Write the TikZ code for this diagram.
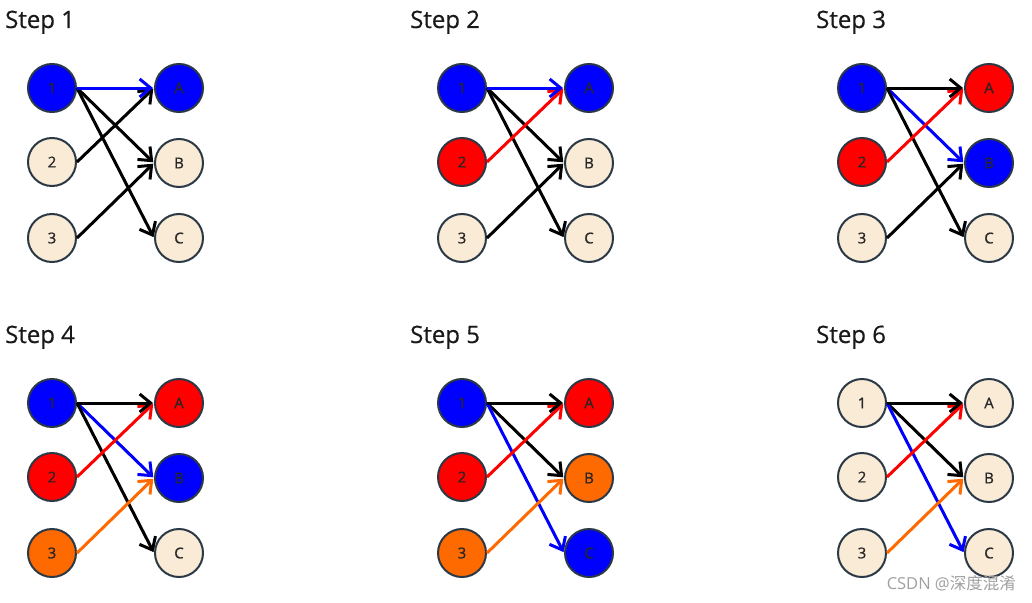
\documentclass[tikz,border=0pt]{standalone}
\usepackage{fontspec}
\setmainfont{Open Sans}
\newfontfamily\labfont[FakeBold=0.8]{Open Sans}
\newfontfamily\titlefont[FakeBold=0.4]{Open Sans}
\newfontfamily\cjkfont{Noto Sans CJK SC}
\usetikzlibrary{arrows.meta}
\definecolor{nblue}{HTML}{0000FF}
\definecolor{nred}{HTML}{FF0000}
\definecolor{norange}{HTML}{FF6A00}
\definecolor{nbeige}{HTML}{FAEBD7}
\definecolor{nborder}{HTML}{2B3845}
\definecolor{wmark}{HTML}{A0A0A0}
\tikzset{
  vert/.style={circle, draw=nborder, line width=2pt, minimum size=48pt, inner sep=0pt, font=\labfont\fontsize{15}{15}\selectfont, text=black!85},
  edge/.style={line width=3pt, -{Straight Barb[length=11pt,width=18pt,line width=3pt]}, shorten >=1pt},
  title/.style={anchor=base west, font=\titlefont\fontsize{24}{24}\selectfont, text=black!90, inner sep=0pt}
}
% #1 prefix, #2..#7 fills of 1,2,3,A,B,C
\newcommand\panelnodes[7]{%
  \node[vert, fill=#2] (#1-1) at (52,88) {1};
  \node[vert, fill=#3] (#1-2) at (52,162) {2};
  \node[vert, fill=#4] (#1-3) at (52,238) {3};
  \node[vert, fill=#5] (#1-A) at (179,88) {A};
  \node[vert, fill=#6] (#1-B) at (179,163) {B};
  \node[vert, fill=#7] (#1-C) at (179,238) {C};
}
% #1 prefix, #2 1A, #3 1B, #4 1C, #5 2A, #6 3B
\newcommand\paneledges[6]{%
  \draw[edge, draw=#3] (#1-1.east) -- (#1-B.west);
  \draw[edge, draw=#4] (#1-1.east) -- (#1-C.west);
  \draw[edge, draw=#6] (#1-3.east) -- (#1-B.west);
  \draw[edge, draw=#5] (#1-2.east) -- (#1-A.west);
  \draw[edge, draw=#2] (#1-1.east) -- (#1-A.west);
}
\begin{document}
\begin{tikzpicture}[x=1pt,y=-1pt]
\useasboundingbox[fill=white] (0,0) rectangle (1032,602);
% titles
\node[title] (t1) at (5,28) {Step 1};
\node[title] (t2) at (410,28) {Step 2};
\node[title] (t3) at (816,28) {Step 3};
\node[title] (t4) at (5,343) {Step 4};
\node[title] (t5) at (410,343) {Step 5};
\node[title] (t6) at (816,343) {Step 6};
% panel 1
\begin{scope}[shift={(0,0)}]
\panelnodes{p1}{nblue}{nbeige}{nbeige}{nblue}{nbeige}{nbeige}
\paneledges{p1}{nblue}{black}{black}{black}{black}
\end{scope}
% panel 2
\begin{scope}[shift={(410,0)}]
\panelnodes{p2}{nblue}{nred}{nbeige}{nblue}{nbeige}{nbeige}
\paneledges{p2}{nblue}{black}{black}{nred}{black}
\end{scope}
% panel 3
\begin{scope}[shift={(810,0)}]
\panelnodes{p3}{nblue}{nred}{nbeige}{nred}{nblue}{nbeige}
\paneledges{p3}{black}{nblue}{black}{nred}{black}
\end{scope}
% panel 4
\begin{scope}[shift={(0,315)}]
\panelnodes{p4}{nblue}{nred}{norange}{nred}{nblue}{nbeige}
\paneledges{p4}{black}{nblue}{black}{nred}{norange}
\end{scope}
% panel 5
\begin{scope}[shift={(410,315)}]
\panelnodes{p5}{nblue}{nred}{norange}{nred}{norange}{nblue}
\paneledges{p5}{black}{black}{nblue}{nred}{norange}
\end{scope}
% panel 6
\begin{scope}[shift={(810,315)}]
\panelnodes{p6}{nbeige}{nbeige}{nbeige}{nbeige}{nbeige}{nbeige}
\paneledges{p6}{black}{black}{nblue}{nred}{norange}
\end{scope}
% watermark
\node[anchor=east, inner sep=0pt, text=wmark, font=\fontsize{16.5}{16.5}\selectfont] (wm) at (1016,583) {CSDN @{\cjkfont 深度混淆}};
\end{tikzpicture}
\end{document}
